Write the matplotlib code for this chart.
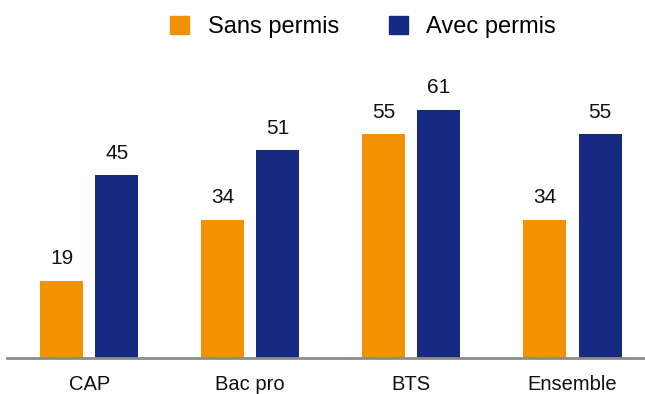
import numpy as np
import matplotlib
matplotlib.use("Agg")
import matplotlib.pyplot as plt
from matplotlib.patches import Patch

plt.rcParams['font.family'] = ['Liberation Sans', 'DejaVu Sans']

categories = ['CAP', 'Bac pro', 'BTS', 'Ensemble']
sans_permis = [19, 34, 55, 34]
avec_permis = [45, 51, 61, 55]

orange = '#F39200'
navy = '#152A80'

fig = plt.figure(figsize=(6.45, 3.94), dpi=100)
ax = fig.add_axes([7 / 645, 1 - 358 / 394, 1 - 7 / 645, (358 - 73) / 394])

x = np.arange(len(categories))
w = 0.267
off = 0.171
b1 = ax.bar(x - off, sans_permis, w, color=orange)
b2 = ax.bar(x + off, avec_permis, w, color=navy)

for bars, vals in ((b1, sans_permis), (b2, avec_permis)):
    for b, v in zip(bars, vals):
        ax.text(b.get_x() + b.get_width() / 2, v + 3, str(v),
                ha='center', va='bottom', fontsize=15, color='#111111')

ax.set_xlim(-0.51, 3.45)
ax.set_ylim(0, 70)
ax.set_xticks(x)
ax.set_xticklabels(categories, fontsize=14.5, color='#111111')
ax.tick_params(axis='x', length=0, pad=12)
ax.set_yticks([])
for s in ('top', 'right', 'left'):
    ax.spines[s].set_visible(False)
ax.spines['bottom'].set_color('#8c8c8c')
ax.spines['bottom'].set_linewidth(2)

handles = [Patch(color=orange, label='Sans permis'),
           Patch(color=navy, label='Avec permis')]
fig.legend(handles=handles, loc='center', bbox_to_anchor=(0.563, 1 - 27 / 394),
           ncol=2, frameon=False, fontsize=17, handlelength=0.8,
           handleheight=0.8, handletextpad=0.8, columnspacing=2.1)

fig.savefig('out.png', dpi=100)
